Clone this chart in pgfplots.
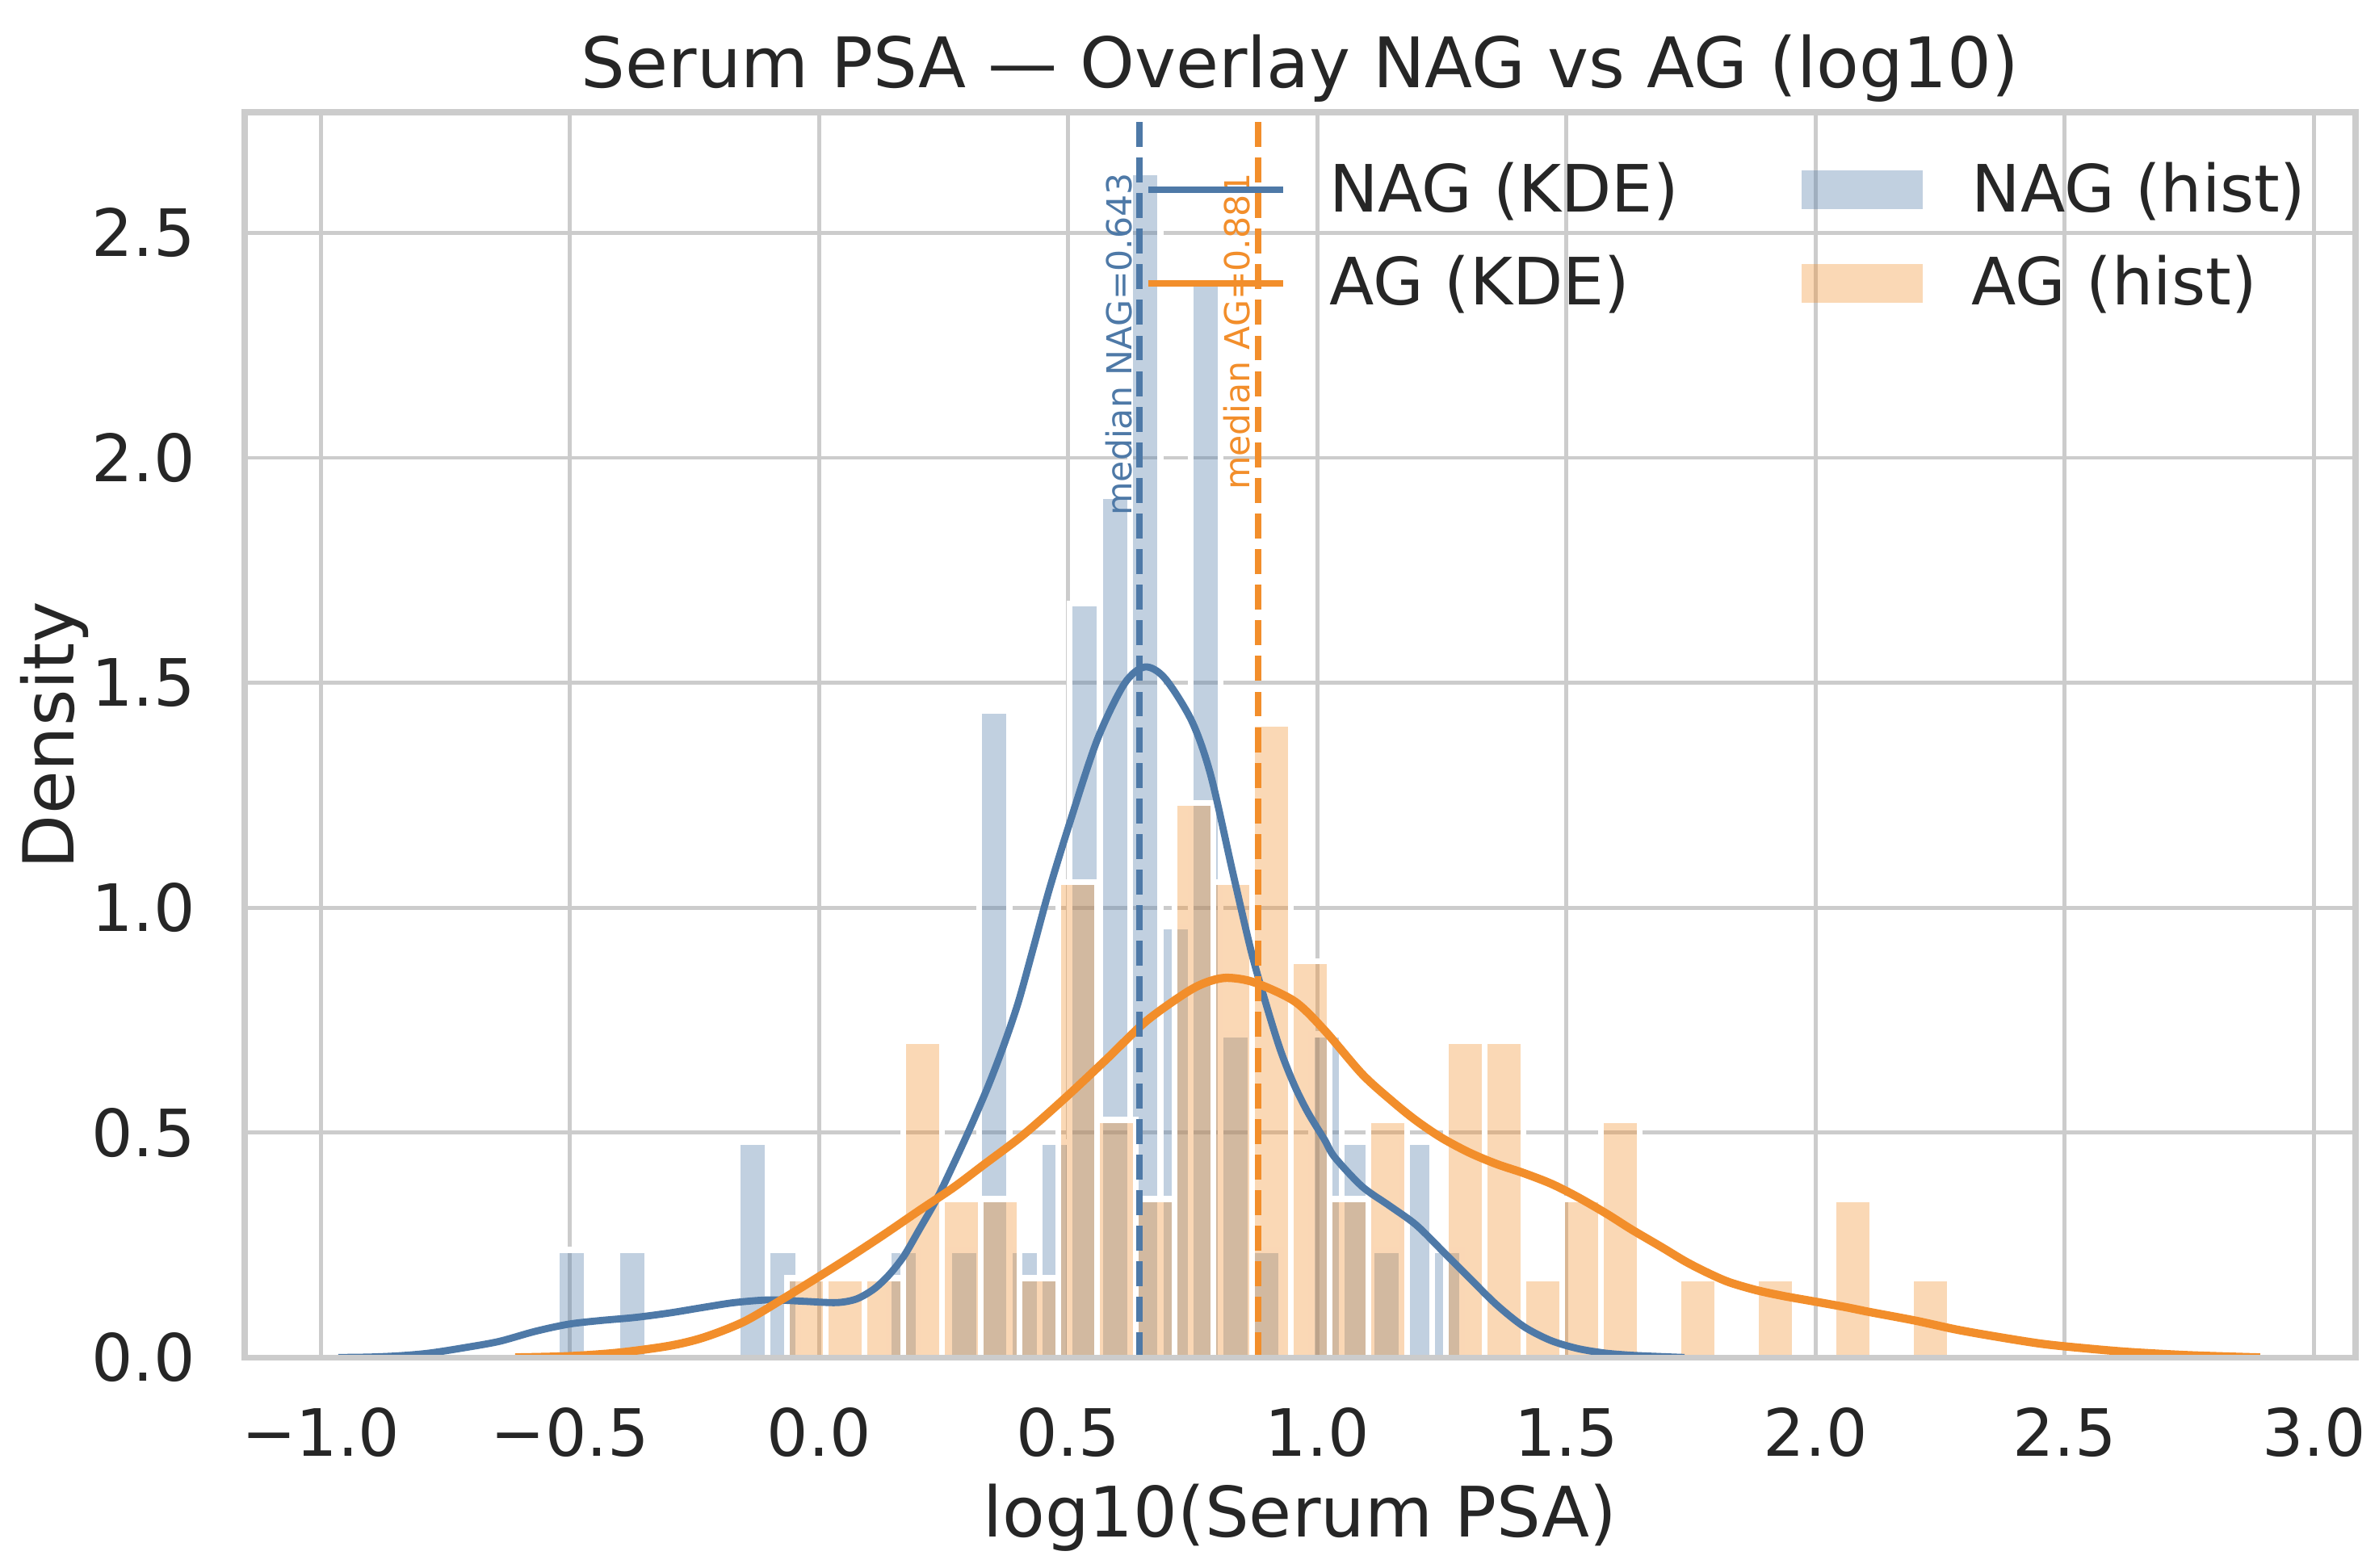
\documentclass[border=0pt]{standalone}
\usepackage{fontspec}
\setmainfont{DejaVu Sans}
\usepackage{pgfplots}
\pgfplotsset{compat=1.18}
\definecolor{nagblue}{RGB}{78,121,167}
\definecolor{agorange}{RGB}{242,142,43}
\definecolor{gridgray}{RGB}{204,204,204}
\definecolor{txt}{RGB}{38,38,38}
\pgfplotsset{
  layers/spinestop/.define layer set={axis background,axis grid,axis ticks,axis tick labels,pre main,main,axis lines,axis descriptions,axis foreground}{
    grid style={/pgfplots/on layer=axis grid},
    tick style={/pgfplots/on layer=axis ticks},
    axis line style={/pgfplots/on layer=axis lines},
    label style={/pgfplots/on layer=axis descriptions},
    legend style={/pgfplots/on layer=axis descriptions},
    title style={/pgfplots/on layer=axis descriptions},
    ticklabel style={/pgfplots/on layer=axis tick labels},
  },
  myline legend/.style={legend image code/.code={\draw[##1] (0pt,0pt) -- (34pt,0pt);}},
  mypatch legend/.style={legend image code/.code={\path[##1, draw=none] (0pt,-4.9pt) rectangle (30.8pt,4.9pt);}},
}
\pgfplotstableread{
x y
-0.5270 0.2395
-0.4664 0
-0.4058 0.2395
-0.3452 0
-0.2846 0
-0.2240 0
-0.1634 0.4790
-0.1028 0.2395
-0.0422 0
0.0184 0
0.0790 0
0.1396 0.2395
0.2002 0
0.2608 0.2395
0.3214 1.4370
0.3820 0.2395
0.4426 0.4790
0.5032 1.6765
0.5638 1.9160
0.6244 2.6345
0.6850 0.9580
0.7456 2.3950
0.8062 0.7185
0.8668 0.2395
0.9274 0
0.9880 0.7185
1.0486 0.4790
1.1092 0.2395
1.1698 0.4790
1.2304 0.2395
1.2910 0
}\naghist
\pgfplotstableread{
x y
-0.0645 0.1761
0.0133 0.1761
0.0911 0.1761
0.1689 0.7044
0.2467 0.3522
0.3245 0.3522
0.4023 0.1761
0.4801 1.0566
0.5579 0.5283
0.6357 0.3522
0.7135 1.2327
0.7913 1.0566
0.8691 1.4088
0.9469 0.8805
1.0247 0.3522
1.1025 0.5283
1.1803 0
1.2581 0.7044
1.3359 0.7044
1.4137 0.1761
1.4915 0.3522
1.5693 0.5283
1.6471 0
1.7249 0.1761
1.8027 0
1.8805 0.1761
1.9583 0
2.0361 0.3522
2.1139 0
2.1917 0.1761
2.2695 0
}\aghist
\begin{document}
\begin{tikzpicture}
\begin{axis}[
  set layers=spinestop,
  name=ax,
  scale only axis,
  width=533.5pt, height=314.7pt,
  xmin=-1.153, xmax=3.084, ymin=0, ymax=2.768,
  xtick={-1,-0.5,0,0.5,1,1.5,2,2.5,3},
  xticklabels={−1.0,−0.5,0.0,0.5,1.0,1.5,2.0,2.5,3.0},
  ytick={0,0.5,1,1.5,2,2.5},
  yticklabels={0.0,0.5,1.0,1.5,2.0,2.5},
  major tick length=0pt,
  tick style={draw=none},
  grid=major,
  major grid style={draw=gridgray, line width=1pt},
  axis line style={draw=gridgray, line width=1.5pt},
  ticklabel style={font=\fontsize{16.5}{19.8}\selectfont, text=txt, inner sep=0pt},
  xticklabel style={anchor=base, yshift=-25pt},
  yticklabel style={anchor=east, xshift=-12.25pt},
  title={Serum PSA — Overlay NAG vs AG (log10)},
  every axis title/.style={at={(rel axis cs:0.5,1)}, anchor=base, yshift=6.2pt, inner sep=0pt, font=\fontsize{17.6}{21}\selectfont, text=txt},
  xlabel={log10(Serum PSA)},
  xlabel style={at={(rel axis cs:0.5,0)}, anchor=base, yshift=-45.3pt, inner sep=0pt, font=\fontsize{17.6}{21}\selectfont, text=txt},
  ylabel={Density},
  every axis y label/.style={at={(rel axis cs:0,0.5)}, xshift=-43.2pt, rotate=90, anchor=base, inner sep=0pt, font=\fontsize{17.8}{21}\selectfont, text=txt},
  legend columns=2,
  legend cell align=left,
  legend style={
    at={(0.4266,0.9601)}, anchor=north west,
    draw=none, fill=none, inner sep=0pt, outer sep=0pt,
    font=\fontsize{16.5}{19.8}\selectfont, text=txt,
    row sep=9.6pt,
    nodes={inner sep=0pt},
    /tikz/column 1/.style={column sep=11.0pt},
    /tikz/column 2/.style={column sep=31.0pt},
    /tikz/column 3/.style={column sep=12.3pt},
  },
]
% histograms
\addplot[ybar interval, fill=nagblue, fill opacity=0.35, draw=white, line width=1.5pt, forget plot] table[x=x,y=y] {\naghist};
\addplot[ybar interval, fill=agorange, fill opacity=0.35, draw=white, line width=1.5pt, forget plot] table[x=x,y=y] {\aghist};
% KDE NAG
\addplot[nagblue, line width=1.8pt, smooth, forget plot] coordinates {
(-0.965,0.000) (-0.90,0.001) (-0.84,0.004) (-0.78,0.010) (-0.705,0.023)
(-0.641,0.036) (-0.570,0.058) (-0.503,0.074) (-0.44,0.082) (-0.369,0.089)
(-0.30,0.099) (-0.234,0.111) (-0.17,0.122) (-0.10,0.128) (-0.032,0.125)
(0.035,0.122) (0.075,0.130) (0.110,0.152) (0.140,0.183) (0.170,0.225)
(0.200,0.282) (0.237,0.354) (0.270,0.430) (0.304,0.512) (0.340,0.605)
(0.371,0.695) (0.400,0.790) (0.430,0.910) (0.462,1.040) (0.505,1.195)
(0.559,1.375) (0.613,1.498) (0.654,1.535) (0.694,1.510) (0.748,1.415)
(0.786,1.295) (0.830,1.080) (0.868,0.900) (0.900,0.775) (0.927,0.680)
(0.954,0.605) (0.981,0.545) (1.014,0.485) (1.035,0.445) (1.090,0.380)
(1.144,0.338) (1.198,0.295) (1.252,0.236) (1.306,0.176) (1.360,0.117)
(1.414,0.069) (1.468,0.038) (1.522,0.020) (1.576,0.010) (1.630,0.005)
(1.690,0.002) (1.737,0.000)
};
% KDE AG
\addplot[agorange, line width=2.1pt, smooth, forget plot] coordinates {
(-0.61,0.000) (-0.50,0.003) (-0.40,0.011) (-0.30,0.026) (-0.23,0.045)
(-0.15,0.080) (-0.07,0.132) (0.00,0.180) (0.06,0.222) (0.13,0.273)
(0.20,0.326) (0.27,0.378) (0.33,0.428) (0.41,0.495) (0.495,0.578)
(0.576,0.662) (0.657,0.748) (0.738,0.812) (0.780,0.835) (0.819,0.844)
(0.873,0.834) (0.954,0.792) (1.014,0.728) (1.090,0.630) (1.150,0.570)
(1.198,0.527) (1.250,0.488) (1.306,0.455) (1.360,0.430) (1.414,0.410)
(1.470,0.386) (1.522,0.357) (1.580,0.320) (1.630,0.285) (1.690,0.246)
(1.738,0.214) (1.780,0.190) (1.825,0.168) (1.880,0.150) (1.934,0.137)
(2.000,0.124) (2.060,0.112) (2.109,0.101) (2.200,0.082) (2.283,0.062)
(2.370,0.045) (2.457,0.030) (2.545,0.020) (2.632,0.012) (2.75,0.005)
(2.892,0.000)
};
% medians
\addplot[nagblue, line width=1.7pt, dash pattern=on 6.3pt off 2.7pt, forget plot] coordinates {(0.643,0) (0.643,2.768)};
\addplot[agorange, line width=1.7pt, dash pattern=on 6.3pt off 2.7pt, forget plot] coordinates {(0.881,0) (0.881,2.768)};
\node[rotate=90, anchor=base east, inner sep=0pt, text=nagblue, font=\fontsize{8.7}{10}\selectfont] at (axis cs:0.627,2.635) {median NAG=0.643};
\node[rotate=90, anchor=base east, inner sep=0pt, text=agorange, font=\fontsize{8.7}{10}\selectfont] at (axis cs:0.865,2.635) {median AG=0.881};
% legend
\addlegendimage{myline legend, nagblue, line width=1.6pt}
\addlegendentry{NAG (KDE)}
\addlegendimage{mypatch legend, draw=none, fill=nagblue, fill opacity=0.35}
\addlegendentry{NAG (hist)}
\addlegendimage{myline legend, agorange, line width=1.6pt}
\addlegendentry{AG (KDE)}
\addlegendimage{mypatch legend, draw=none, fill=agorange, fill opacity=0.35}
\addlegendentry{AG (hist)}
\end{axis}
\pgfresetboundingbox
\path[use as bounding box] ([shift={(-61.8pt,-53.2pt)}]ax.south west) rectangle ([shift={(5.9pt,28.4pt)}]ax.north east);
\end{tikzpicture}
\end{document}
